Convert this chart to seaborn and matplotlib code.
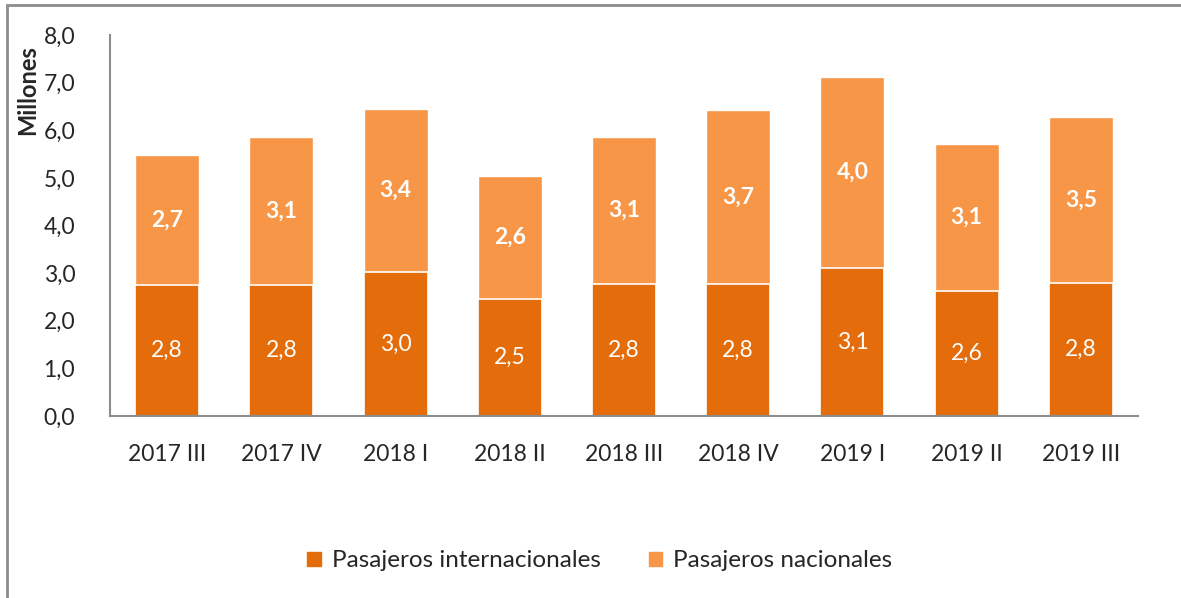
import pandas as pd
import seaborn as sns
import matplotlib
matplotlib.use("Agg")
from matplotlib import pyplot as plt
from matplotlib.patches import Rectangle, Patch

# Quarterly passengers (millions)
QUARTERS = ['2017 III', '2017 IV', '2018 I', '2018 II', '2018 III',
            '2018 IV', '2019 I', '2019 II', '2019 III']
INTERNACIONALES = [2.75, 2.76, 3.03, 2.46, 2.77, 2.77, 3.11, 2.63, 2.79]
NACIONALES = [2.73, 3.10, 3.42, 2.58, 3.09, 3.66, 4.01, 3.08, 3.49]
Y_TICKS = [0, 1, 2, 3, 4, 5, 6, 7, 8]

DARK = '#E46C0A'
LIGHT = '#F79646'

sns.set_style("white")
plt.rcParams['font.family'] = ['Lato', 'DejaVu Sans']

df = pd.DataFrame({'Trimestre': QUARTERS,
                   'Internacionales': INTERNACIONALES,
                   'Nacionales': NACIONALES})
df['Total'] = df['Internacionales'] + df['Nacionales']

fig = plt.figure(figsize=(11.81, 5.98), dpi=100)
ax = fig.add_axes([0.0931, 0.3043, 0.8705, 0.6372])

sns.barplot(data=df, x='Trimestre', y='Total', color=LIGHT, width=0.56,
            saturation=1, ax=ax)
sns.barplot(data=df, x='Trimestre', y='Internacionales', color=DARK, width=0.56,
            saturation=1, edgecolor='white', linewidth=1.2, ax=ax)

fmt = lambda v: f"{v:.1f}".replace('.', ',')
for i, (a, b) in enumerate(zip(INTERNACIONALES, NACIONALES)):
    ax.text(i, a / 2, fmt(a), ha='center', va='center', color='white', fontsize=16.5)
    ax.text(i, a + b / 2, fmt(b), ha='center', va='center', color='white',
            fontsize=16.5, fontweight='bold')

ax.set_ylim(0, 8)
ax.set_xlim(-0.5, len(QUARTERS) - 0.5)
ax.set_yticks(Y_TICKS)
ax.set_yticklabels([fmt(v) for v in Y_TICKS])
ax.tick_params(axis='y', length=0, pad=25, labelsize=16.5)
ax.tick_params(axis='x', length=0, pad=20, labelsize=16.5)
ax.set_xlabel('')
ax.set_ylabel('')
fig.text(28 / 1181, 1 - 90 / 598, 'Millones', rotation=90, ha='center',
         va='center', fontsize=17, fontweight='bold')

for s in ['top', 'right']:
    ax.spines[s].set_visible(False)
for s in ['left', 'bottom']:
    ax.spines[s].set_color('#8c8c8c')
    ax.spines[s].set_linewidth(1.5)

handles = [Patch(color=DARK, label='Pasajeros internacionales'),
           Patch(color=LIGHT, label='Pasajeros nacionales')]
fig.legend(handles=handles, loc='center', bbox_to_anchor=(0.508, 0.062), ncol=2,
           frameon=False, fontsize=17.5, handlelength=0.55, handleheight=0.55,
           handletextpad=0.45, columnspacing=2.0)

fig.patches.append(Rectangle((7 / 1181, -0.05), 1.2, 1.05 - 5 / 598,
                             transform=fig.transFigure, fill=False,
                             edgecolor='#8c8c8c', linewidth=2))

fig.savefig('out.png', dpi=100)
